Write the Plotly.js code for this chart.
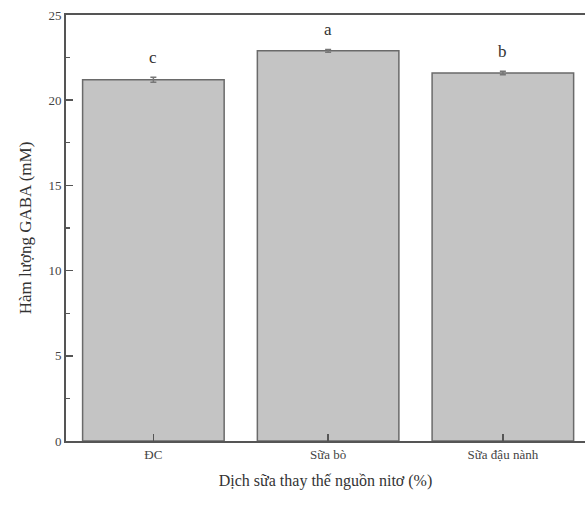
<!DOCTYPE html>
<html><head><meta charset="utf-8">
<script src="https://cdn.plot.ly/plotly-3.0.1.min.js"></script>
<style>html,body{margin:0;padding:0;background:#fff}#chart{width:585px;height:508px}</style>
</head><body><div id="chart"></div>
<script>
const categories = ["ĐC", "Sữa bò", "Sữa đậu nành"];
const gaba = [21.2, 22.9, 21.6];
const errors = [0.15, 0.08, 0.1];
const letters = ["c", "a", "b"];

const serif = "Liberation Serif, Times New Roman, serif";
const trace = {
  type: "bar",
  x: categories,
  y: gaba,
  width: 0.81,
  marker: {color: "#c4c4c4", line: {color: "#6a6a6a", width: 1.5}},
  error_y: {type: "data", array: errors, visible: true, color: "#777", thickness: 1.5, width: 3},
  hoverinfo: "none"
};
const annotations = categories.map((c, i) => ({
  x: c, y: gaba[i] + errors[i], xref: "x", yref: "y",
  text: letters[i], showarrow: false, yanchor: "bottom", yshift: 8,
  font: {family: serif, size: 17, color: "#333"}
}));
const layout = {
  width: 585, height: 508,
  margin: {l: 66, r: 0, t: 15, b: 67},
  paper_bgcolor: "#fff", plot_bgcolor: "#fff",
  font: {family: serif, color: "#444"},
  showlegend: false,
  bargap: 0.19,
  xaxis: {
    range: [-0.5, 2.47],
    color: "#444",
    showline: true, linecolor: "#555", linewidth: 2, mirror: true,
    ticks: "inside", ticklen: 7, tickcolor: "#555", tickwidth: 1.5,
    tickfont: {family: serif, size: 13, color: "#444"},
    title: {text: "Dịch sữa thay thế nguồn nitơ (%)", font: {family: serif, size: 16, color: "#333"}, standoff: 14},
    showgrid: false, zeroline: false, fixedrange: true
  },
  yaxis: {
    range: [0, 25],
    color: "#444",
    tickvals: [0, 5, 10, 15, 20, 25],
    showline: true, linecolor: "#555", linewidth: 2, mirror: true,
    ticks: "inside", ticklen: 7, tickcolor: "#555", tickwidth: 1.5,
    minor: {ticks: "inside", ticklen: 4, dtick: 2.5, tickcolor: "#555", tickwidth: 1.2},
    tickfont: {family: serif, size: 13, color: "#444"},
    title: {text: "Hàm lượng GABA (mM)", font: {family: serif, size: 17, color: "#333"}, standoff: 12},
    showgrid: false, zeroline: false, fixedrange: true
  },
  annotations: annotations
};
Plotly.newPlot("chart", [trace], layout, {displayModeBar: false, staticPlot: true});
</script></body></html>
